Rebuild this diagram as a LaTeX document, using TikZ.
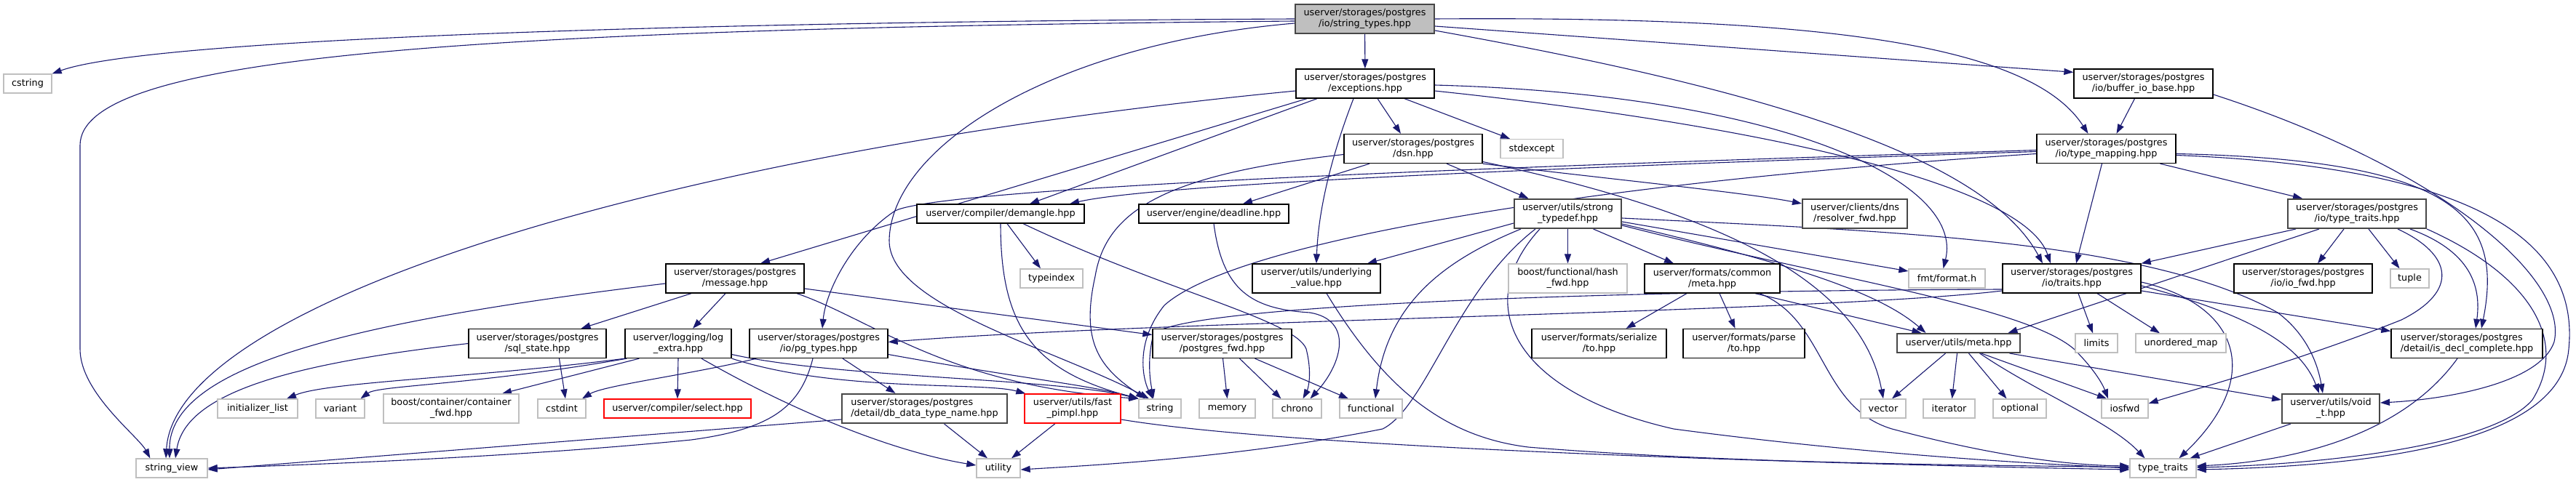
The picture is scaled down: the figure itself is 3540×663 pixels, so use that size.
\documentclass[tikz,border=0pt]{standalone}
\usepackage{fontspec}
\setmainfont{DejaVu Sans}
\usetikzlibrary{arrows.meta}
\definecolor{mblue}{RGB}{25,25,112}
\definecolor{gsev}{RGB}{191,191,191}
\pgfdeclarelayer{edgelayer}
\pgfsetlayers{edgelayer,main}
\begin{document}
\begin{tikzpicture}[x=1pt,y=-1pt,
  base/.style={fill=white, inner sep=0pt, align=center, font=\fontsize{12.8}{15}\selectfont},
  doc/.style={base, draw=black, line width=1.3pt},
  docg/.style={base, draw=black!72, line width=2pt},
  ext/.style={base, draw=gsev, line width=1.3pt},
  trunc/.style={base, draw=red, line width=1.3pt},
  e/.style={draw=mblue, line width=1.1pt, -{Triangle[length=13pt,width=9pt]}}]
\useasboundingbox (0,0) rectangle (3540,663);

% ---------- nodes ----------
\node[docg, fill=gsev, minimum width=191pt, minimum height=40pt] (root) at (1875.5,26) {userver/storages/postgres\\/io/string\_types.hpp};
\node[doc, minimum width=190pt, minimum height=40pt] (exceptions) at (1876,115) {userver/storages/postgres\\/exceptions.hpp};
\node[doc, minimum width=191pt, minimum height=40pt] (buffer) at (2945.5,115) {userver/storages/postgres\\/io/buffer\_io\_base.hpp};
\node[ext, minimum width=66pt, minimum height=26pt] (cstring) at (38,115) {cstring};
\node[doc, minimum width=190pt, minimum height=40pt] (dsn) at (1942,204.5) {userver/storages/postgres\\/dsn.hpp};
\node[ext, minimum width=86pt, minimum height=26pt] (stdexcept) at (2105,204.5) {stdexcept};
\node[doc, minimum width=191pt, minimum height=40pt] (typemapping) at (2894.5,204.5) {userver/storages/postgres\\/io/type\_mapping.hpp};
\node[doc, minimum width=230pt, minimum height=26pt] (demangle) at (1375,294) {userver/compiler/demangle.hpp};
\node[doc, minimum width=206pt, minimum height=26pt] (deadline) at (1668,294) {userver/engine/deadline.hpp};
\node[docg, minimum width=147pt, minimum height=40pt] (strongtd) at (2154.5,294) {userver/utils/strong\\\_typedef.hpp};
\node[docg, minimum width=144pt, minimum height=40pt] (resolver) at (2549,294) {userver/clients/dns\\/resolver\_fwd.hpp};
\node[docg, minimum width=190pt, minimum height=40pt] (iotypetraits) at (3239,294) {userver/storages/postgres\\/io/type\_traits.hpp};
\node[doc, minimum width=190pt, minimum height=40pt] (message) at (1010,383) {userver/storages/postgres\\/message.hpp};
\node[ext, minimum width=86pt, minimum height=26pt] (typeindex) at (1445,383) {typeindex};
\node[doc, minimum width=176pt, minimum height=40pt] (underlying) at (1809,383) {userver/utils/underlying\\\_value.hpp};
\node[ext, minimum width=163pt, minimum height=40pt] (hashfwd) at (2154.5,383) {boost/functional/hash\\\_fwd.hpp};
\node[doc, minimum width=186pt, minimum height=40pt] (commonmeta) at (2353,383) {userver/formats/common\\/meta.hpp};
\node[ext, minimum width=105pt, minimum height=26pt] (fmt) at (2675.5,383) {fmt/format.h};
\node[doc, minimum width=190pt, minimum height=40pt] (traits) at (2847,383) {userver/storages/postgres\\/io/traits.hpp};
\node[doc, minimum width=190pt, minimum height=40pt] (iofwd) at (3165,383) {userver/storages/postgres\\/io/io\_fwd.hpp};
\node[ext, minimum width=53pt, minimum height=26pt] (tuple) at (3311.5,383) {tuple};
\node[doc, minimum width=189pt, minimum height=40pt] (sqlstate) at (738.5,472.5) {userver/storages/postgres\\/sql\_state.hpp};
\node[doc, minimum width=146pt, minimum height=40pt] (logextra) at (932,472.5) {userver/logging/log\\\_extra.hpp};
\node[doc, minimum width=190pt, minimum height=40pt] (pgtypes) at (1125,472.5) {userver/storages/postgres\\/io/pg\_types.hpp};
\node[doc, minimum width=191pt, minimum height=40pt] (pgfwd) at (1679.5,472.5) {userver/storages/postgres\\/postgres\_fwd.hpp};
\node[doc, minimum width=185pt, minimum height=40pt] (serialize) at (2197.5,472.5) {userver/formats/serialize\\/to.hpp};
\node[doc, minimum width=167pt, minimum height=40pt] (parse) at (2396.5,472.5) {userver/formats/parse\\/to.hpp};
\node[docg, minimum width=169pt, minimum height=26pt] (utilsmeta) at (2691.5,472) {userver/utils/meta.hpp};
\node[ext, minimum width=58pt, minimum height=26pt] (limits) at (2881,472) {limits};
\node[ext, minimum width=124pt, minimum height=26pt] (umap) at (2997,472) {unordered\_map};
\node[doc, align=left, minimum width=208pt, minimum height=40pt] (isdecl) at (3390,472.5) {userver/storages/postgres\\/detail/is\_decl\_complete.hpp};
\node[ext, minimum width=110pt, minimum height=26pt] (initlist) at (354,562) {initializer\_list};
\node[ext, minimum width=67pt, minimum height=26pt] (variant) at (467.5,562) {variant};
\node[ext, minimum width=186pt, minimum height=40pt] (contfwd) at (620,562) {boost/container/container\\\_fwd.hpp};
\node[ext, minimum width=66pt, minimum height=26pt] (cstdint) at (772,562) {cstdint};
\node[trunc, minimum width=202pt, minimum height=26pt] (select) at (931,562) {userver/compiler/select.hpp};
\node[docg, align=left, minimum width=227pt, minimum height=40pt] (dbdata) at (1270.5,562) {userver/storages/postgres\\/detail/db\_data\_type\_name.hpp};
\node[trunc, minimum width=132pt, minimum height=40pt] (fastpimpl) at (1474,562) {userver/utils/fast\\\_pimpl.hpp};
\node[ext, minimum width=58pt, minimum height=26pt] (string) at (1594,562) {string};
\node[ext, minimum width=77pt, minimum height=26pt] (memory) at (1686.5,562) {memory};
\node[ext, minimum width=67pt, minimum height=26pt] (chrono) at (1782.5,562) {chrono};
\node[ext, minimum width=86pt, minimum height=26pt] (functional) at (1884,562) {functional};
\node[ext, minimum width=62pt, minimum height=26pt] (vector) at (2588,562) {vector};
\node[ext, minimum width=71pt, minimum height=26pt] (iterator) at (2678.5,562) {iterator};
\node[ext, minimum width=73pt, minimum height=26pt] (optional) at (2775.5,562) {optional};
\node[ext, minimum width=64pt, minimum height=26pt] (iosfwd) at (2920,562) {iosfwd};
\node[docg, minimum width=134pt, minimum height=40pt] (voidt) at (3203,562) {userver/utils/void\\\_t.hpp};
\node[ext, minimum width=98pt, minimum height=26pt] (stringview) at (236,644) {string\_view};
\node[ext, minimum width=60pt, minimum height=26pt] (utility) at (1372,644) {utility};
\node[ext, minimum width=91pt, minimum height=26pt] (typetraits) at (2972.5,644) {type\_traits};

% ---------- edges ----------
\begin{pgfonlayer}{edgelayer}
% root
\draw[e] (root.west) .. controls (900,30) and (200,55) .. (cstring.north east);
\draw[e] ([yshift=-3pt]root.west) .. controls (600,40) and (110,80) .. (110,200) -- (110,480) .. controls (110,540) and (190,600) .. ([xshift=20pt]stringview.north west);
\draw[e] ([yshift=-6pt]root.west) .. controls (1450,60) and (1225,200) .. (1222,330) .. controls (1220,420) and (1450,480) .. ([xshift=-15pt]string.north);
\draw[e] (root) -- (exceptions);
\draw[e] ([yshift=-10pt]root.east) -- ([yshift=-5pt]buffer.north west);
\draw[e] (root.east) .. controls (2500,22) and (2790,60) .. ([xshift=-25pt]typemapping.north);
\draw[e] ([yshift=-16pt]root.east) .. controls (2350,110) and (2720,200) .. ([xshift=-40pt]traits.north);
% exceptions
\draw[e] ([xshift=54pt]exceptions.south) -- ([xshift=-30pt]stdexcept.north);
\draw[e] ([yshift=-10pt]exceptions.west) .. controls (900,210) and (240,420) .. ([xshift=-8pt]stringview.north);
\draw[e] ([xshift=-80pt]exceptions.south) -- ([xshift=35pt]message.north);
\draw[e] ([xshift=-66pt]exceptions.south) -- ([xshift=40pt]demangle.north);
\draw[e] ([xshift=-16pt]exceptions.south) .. controls (1835,200) and (1812,280) .. (underlying.north);
\draw[e] ([xshift=17pt]exceptions.south) -- ([xshift=-17pt]dsn.north);
\draw[e] ([yshift=-2pt]exceptions.east) .. controls (2450,130) and (2700,250) .. ([xshift=-5pt]fmt.north);
\draw[e] ([yshift=-10pt]exceptions.east) .. controls (2400,170) and (2780,250) .. ([xshift=-29pt]traits.north);
% buffer_io_base
\draw[e] ([xshift=-12pt]buffer.south) -- ([xshift=14pt]typemapping.north);
\draw[e] ([yshift=-15pt]buffer.east) .. controls (3350,230) and (3530,380) .. (3510,470) .. controls (3490,530) and (3350,550) .. ([yshift=8pt]voidt.east);
% type_mapping
\draw[e] ([xshift=-6pt]typemapping.south) -- ([xshift=6pt]traits.north);
\draw[e] ([xshift=74pt]typemapping.south) -- ([xshift=-75pt]iotypetraits.north);
\draw[e] ([yshift=-7pt]typemapping.east) .. controls (3380,220) and (3440,300) .. ([xshift=20pt]isdecl.north);
\draw[e] ([yshift=-9pt]typemapping.east) .. controls (3400,230) and (3545,330) .. (3530,480) .. controls (3520,600) and (3300,640) .. ([yshift=-2pt]typetraits.east);
\draw[e] ([yshift=-4pt]typemapping.west) .. controls (2300,225) and (1600,250) .. ([xshift=95pt]demangle.north);
\draw[e] ([yshift=-2pt]typemapping.west) .. controls (2200,225) and (1300,255) .. (1230,290) .. controls (1170,330) and (1135,400) .. ([xshift=5pt]pgtypes.north);
\draw[e] ([yshift=-7pt]typemapping.west) .. controls (2200,250) and (1700,330) .. (1600,420) .. controls (1560,470) and (1570,520) .. ([xshift=-10pt]string.north);
% dsn
\draw[e] ([yshift=-8pt]dsn.west) .. controls (1600,240) and (1520,290) .. (1505,380) .. controls (1485,470) and (1510,505) .. ([xshift=-20pt]string.north);
\draw[e] ([xshift=-60pt]dsn.south) -- ([xshift=40pt]deadline.north);
\draw[e] ([xshift=46pt]dsn.south) -- ([xshift=-54pt]strongtd.north);
\draw[e] (dsn.south east) .. controls (2200,245) and (2400,265) .. ([yshift=14pt]resolver.west);
\draw[e] ([yshift=-18pt]dsn.east) .. controls (2400,300) and (2560,400) .. (vector.north);
% message
\draw[e] ([yshift=-7pt]message.west) .. controls (500,440) and (232,500) .. ([xshift=-3pt]stringview.north);
\draw[e] ([xshift=-60pt]message.south) -- ([xshift=60pt]sqlstate.north);
\draw[e] ([xshift=-13pt]message.south) -- ([xshift=20pt]logextra.north);
\draw[e] ([yshift=-14pt]message.east) -- ([yshift=12pt]pgfwd.west);
\draw[e] ([xshift=85pt]message.south) .. controls (1200,440) and (1300,530) .. (string.north west);
% sql_state
\draw[e] (sqlstate.west) .. controls (400,500) and (255,540) .. ([xshift=5pt]stringview.north);
\draw[e] ([xshift=30pt]sqlstate.south) -- ([xshift=5pt]cstdint.north);
% log_extra
\draw[e] (logextra.south west) .. controls (650,520) and (450,525) .. ([xshift=40pt]initlist.north);
\draw[e] ([xshift=3pt]logextra.south west) .. controls (650,530) and (520,530) .. ([xshift=28pt]variant.north);
\draw[e] ([xshift=20pt]logextra.south west) -- ([xshift=70pt]contfwd.north);
\draw[e] (logextra.south) -- (select.north);
\draw[e] ([xshift=32pt]logextra.south) .. controls (1080,560) and (1220,620) .. ([yshift=4pt]utility.west);
\draw[e] ([yshift=-15pt]logextra.east) .. controls (1150,520) and (1450,520) .. (string.north west);
\draw[e] (logextra.south east) .. controls (1150,540) and (1350,525) .. ([xshift=2pt]fastpimpl.north west);
% pg_types
\draw[e] ([xshift=10pt]pgtypes.south west) .. controls (950,515) and (830,530) .. ([xshift=28pt]cstdint.north);
\draw[e] ([xshift=-8pt]pgtypes.south) .. controls (1100,560) and (1060,590) .. (950,605) .. controls (700,630) and (400,640) .. (stringview.east);
\draw[e] ([xshift=33pt]pgtypes.south) -- ([xshift=-40pt]dbdata.north);
\draw[e] ([yshift=-15pt]pgtypes.east) .. controls (1400,520) and (1500,530) .. (string.north west);
% db_data_type_name
\draw[e] ([yshift=-15pt]dbdata.west) -- ([yshift=-2pt]stringview.east);
\draw[e] ([xshift=27pt]dbdata.south) -- ([xshift=-15pt]utility.north);
% fast_pimpl
\draw[e] ([xshift=-24pt]fastpimpl.south) -- ([xshift=18pt]utility.north);
\draw[e] ([yshift=-15pt]fastpimpl.east) .. controls (1800,620) and (2600,640) .. ([yshift=-2pt]typetraits.west);
% postgres_fwd
\draw[e] ([xshift=1pt]pgfwd.south) -- (memory.north);
\draw[e] ([xshift=24pt]pgfwd.south) -- ([xshift=-22pt]chrono.north);
\draw[e] ([xshift=45pt]pgfwd.south) -- ([xshift=-31pt]functional.north);
% demangle
\draw[e] (demangle.south) .. controls (1375,450) and (1420,510) .. (string.north west);
\draw[e] ([xshift=9pt]demangle.south) -- ([xshift=-15pt]typeindex.north);
\draw[e] ([xshift=31pt]demangle.south) .. controls (1600,400) and (1780,440) .. (1795,480) .. controls (1805,520) and (1795,540) .. ([xshift=8pt]chrono.north);
% deadline
\draw[e] (deadline.south) .. controls (1680,400) and (1720,425) .. (1800,430) .. controls (1860,440) and (1845,500) .. ([xshift=18pt]chrono.north);
% underlying_value
\draw[e] ([xshift=14pt]underlying.south) .. controls (1900,530) and (1980,600) .. (2100,615) .. controls (2400,640) and (2800,640) .. ([yshift=1pt]typetraits.west);
% strong_typedef
\draw[e] ([yshift=-13pt]strongtd.west) -- ([xshift=70pt]underlying.north);
\draw[e] ([xshift=10pt]strongtd.south west) .. controls (1980,360) and (1905,420) .. ([xshift=6pt]functional.north);
\draw[e] ([xshift=30pt]strongtd.south west) .. controls (2000,400) and (1960,560) .. (1900,590) .. controls (1700,630) and (1500,640) .. ([yshift=-2pt]utility.east);
\draw[e] ([xshift=36pt]strongtd.south west) .. controls (2020,420) and (2080,540) .. (2300,590) .. controls (2600,630) and (2850,640) .. (typetraits.west);
\draw[e] (strongtd.south) -- (hashfwd.north);
\draw[e] ([xshift=35pt]strongtd.south) -- ([xshift=-53pt]commonmeta.north);
\draw[e] ([yshift=-11pt]strongtd.east) -- ([yshift=10pt]fmt.west);
\draw[e] ([yshift=-14pt]strongtd.east) .. controls (2450,360) and (2580,400) .. ([xshift=-45pt]utilsmeta.north);
\draw[e] ([yshift=-16pt]strongtd.east) .. controls (2500,380) and (2780,420) .. (2850,480) .. controls (2880,510) and (2890,530) .. ([xshift=-23pt]iosfwd.north);
\draw[e] ([yshift=-6pt]strongtd.east) .. controls (2600,318) and (2950,330) .. (3130,430) .. controls (3170,460) and (3185,500) .. ([xshift=-11pt]voidt.north);
% formats/common/meta
\draw[e] ([xshift=-35pt]commonmeta.south) -- ([xshift=37pt]serialize.north);
\draw[e] ([xshift=10pt]commonmeta.south) -- ([xshift=-12pt]parse.north);
\draw[e] ([xshift=59pt]commonmeta.south) -- ([xshift=-51pt]utilsmeta.north);
\draw[e] ([xshift=65pt]commonmeta.south) .. controls (2510,440) and (2500,560) .. (2600,590) .. controls (2750,630) and (2850,640) .. ([yshift=3pt]typetraits.west);
% utils/meta
\draw[e] ([xshift=-18pt]utilsmeta.south) -- ([xshift=12pt]vector.north);
\draw[e] ([xshift=-2pt]utilsmeta.south) -- ([xshift=4pt]iterator.north);
\draw[e] ([xshift=14pt]utilsmeta.south) -- ([xshift=-18pt]optional.north);
\draw[e] ([xshift=31pt]utilsmeta.south) -- ([xshift=-25pt]iosfwd.north);
\draw[e] ([xshift=29pt]utilsmeta.south) .. controls (2800,540) and (2900,580) .. ([xshift=-25pt]typetraits.north);
\draw[e] ([xshift=70pt]utilsmeta.south) -- ([yshift=12pt]voidt.west);
% io/traits
\draw[e] ([yshift=-17pt]traits.west) .. controls (2500,430) and (1600,440) .. ([yshift=2pt]pgtypes.east);
\draw[e] ([yshift=-15pt]traits.west) .. controls (2200,400) and (1620,420) .. (1585,460) .. controls (1575,500) and (1582,530) .. ([xshift=-9pt]string.north);
\draw[e] ([xshift=9pt]traits.south) -- ([xshift=-5pt]limits.north);
\draw[e] ([xshift=35pt]traits.south) -- ([xshift=-29pt]umap.north);
\draw[e] ([yshift=-5pt]traits.east) .. controls (3080,420) and (3110,520) .. ([xshift=22pt]typetraits.north);
\draw[e] ([yshift=-10pt]traits.east) .. controls (3080,430) and (3160,470) .. ([xshift=-16pt]voidt.north);
\draw[e] ([yshift=-17pt]traits.east) -- ([yshift=17pt]isdecl.west);
% io/type_traits
\draw[e] ([xshift=-84pt]iotypetraits.south) -- (traits.north east);
\draw[e] ([xshift=-52pt]iotypetraits.south) -- ([xshift=68pt]utilsmeta.north);
\draw[e] ([xshift=-18pt]iotypetraits.south) -- ([xshift=20pt]iofwd.north);
\draw[e] ([xshift=16pt]iotypetraits.south) -- ([xshift=-14pt]tuple.north);
\draw[e] ([xshift=56pt]iotypetraits.south) .. controls (3370,350) and (3380,400) .. (3300,440) .. controls (3150,500) and (3000,540) .. ([yshift=7pt]iosfwd.east);
\draw[e] ([xshift=73pt]iotypetraits.south) .. controls (3380,340) and (3412,380) .. ([xshift=12pt]isdecl.north);
\draw[e] (iotypetraits.south east) .. controls (3480,380) and (3530,470) .. (3480,550) .. controls (3420,620) and (3150,640) .. ([yshift=1pt]typetraits.east);
% is_decl_complete
\draw[e] ([xshift=-13pt]isdecl.south) .. controls (3300,600) and (3150,635) .. ([yshift=3pt]typetraits.east);
% void_t
\draw[e] ([xshift=-55pt]voidt.south) -- ([xshift=37pt]typetraits.north);
\end{pgfonlayer}
\end{tikzpicture}
\end{document}
